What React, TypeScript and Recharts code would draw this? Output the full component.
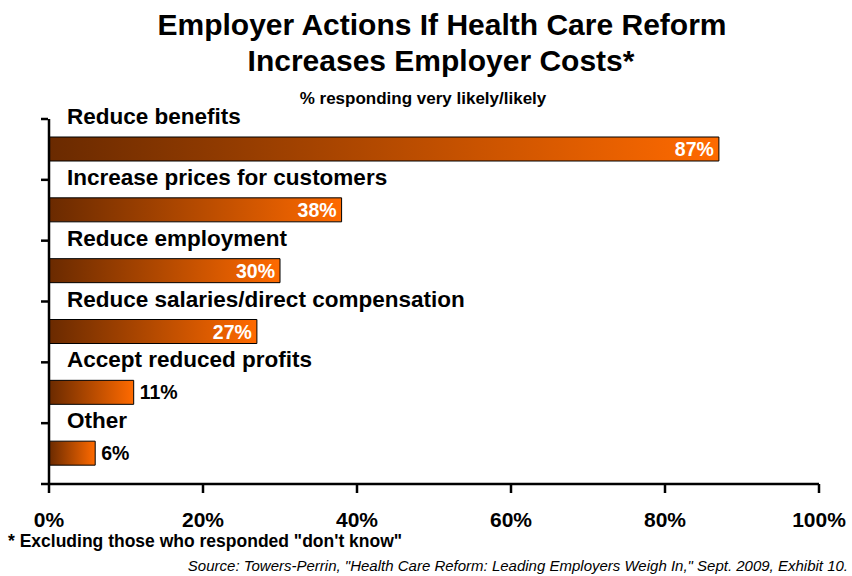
import React from "react";
import { BarChart, Bar, XAxis, YAxis, LabelList } from "recharts";

const categories = [
  "Reduce benefits",
  "Increase prices for customers",
  "Reduce employment",
  "Reduce salaries/direct compensation",
  "Accept reduced profits",
  "Other",
];
const values = [87, 38, 30, 27, 11, 6];
const xTicks = [0, 20, 40, 60, 80, 100];

const data = categories.map((name, i) => ({ name, value: values[i] }));

const W = 852;
const H = 576;
const X_AXIS_H = 60;
const MARGIN = { top: 119, right: 33, bottom: 92 - X_AXIS_H, left: 48 };
const BAND = (H - MARGIN.top - MARGIN.bottom - X_AXIS_H) / categories.length;
const FONT = '"Liberation Sans", Arial, Helvetica, sans-serif';

// tick marks sit at band edges, not centres
function BandTick(props: any) {
  const { y, index } = props;
  const ax = MARGIN.left;
  return (
    <g>
      <line x1={ax - 7} x2={ax} y1={y - BAND / 2} y2={y - BAND / 2} stroke="#000" strokeWidth={2.5} />
      {index === categories.length - 1 && (
        <line x1={ax - 7} x2={ax} y1={y + BAND / 2} y2={y + BAND / 2} stroke="#000" strokeWidth={2.5} />
      )}
    </g>
  );
}

function NameLabel(props: any) {
  const { x, y, value } = props;
  return (
    <text x={x + 18} y={y - 13} fontFamily={FONT} fontWeight="bold" fontSize={22.5} fill="#000">
      {value}
    </text>
  );
}

function ValueLabel(props: any) {
  const { x, y, width, height, value } = props;
  const inside = value >= 20;
  return (
    <text
      x={inside ? x + width - 5 : x + width + 6}
      y={y + height / 2 + 7}
      textAnchor={inside ? "end" : "start"}
      fontFamily={FONT}
      fontWeight="bold"
      fontSize={19.5}
      fill={inside ? "#fff" : "#000"}
    >
      {value}%
    </text>
  );
}

export default function App() {
  return (
    <div style={{ position: "absolute", left: 0, top: 0, width: W, height: H, background: "#fff" }}>
      <BarChart
        width={W}
        height={H}
        data={data}
        layout="vertical"
        margin={MARGIN}
        barCategoryGap={0}
      >
        <defs>
          <linearGradient id="barFill" x1="0" y1="0" x2="1" y2="0">
            <stop offset="0%" stopColor="#6a2a00" />
            <stop offset="100%" stopColor="#ff6a00" />
          </linearGradient>
        </defs>
        <XAxis
          type="number"
          domain={[0, 100]}
          ticks={xTicks}
          tickFormatter={(v) => `${v}%`}
          axisLine={{ stroke: "#000", strokeWidth: 2.5 }}
          tickLine={{ stroke: "#000", strokeWidth: 2.5 }}
          tickSize={9}
          tickMargin={19}
          height={X_AXIS_H}
          tick={{ fill: "#000", fontSize: 21, fontWeight: "bold", fontFamily: FONT }}
          interval={0}
        />
        <YAxis
          type="category"
          dataKey="name"
          axisLine={{ stroke: "#000", strokeWidth: 2.5 }}
          tickLine={false}
          tick={<BandTick />}
          interval={0}
          width={1}
        />
        <Bar
          dataKey="value"
          fill="url(#barFill)"
          stroke="#000"
          strokeWidth={1}
          barSize={24}
          isAnimationActive={false}
        >
          <LabelList dataKey="name" content={<NameLabel />} />
          <LabelList dataKey="value" content={<ValueLabel />} />
        </Bar>
      </BarChart>
      <svg
        width={W}
        height={H}
        style={{ position: "absolute", left: 0, top: 0, pointerEvents: "none" }}
        fontFamily={FONT}
      >
        <text x={442} y={35} textAnchor="middle" fontWeight="bold" fontSize={30}>
          Employer Actions If Health Care Reform
        </text>
        <text x={441} y={71} textAnchor="middle" fontWeight="bold" fontSize={30}>
          Increases Employer Costs*
        </text>
        <text x={423} y={104} textAnchor="middle" fontWeight="bold" fontSize={17}>
          % responding very likely/likely
        </text>
        <text x={8} y={547} fontWeight="bold" fontSize={17.5}>
          * Excluding those who responded "don't know"
        </text>
        <text x={848} y={571} textAnchor="end" fontStyle="italic" fontSize={15}>
          Source: Towers-Perrin, "Health Care Reform: Leading Employers Weigh In," Sept. 2009, Exhibit 10.
        </text>
      </svg>
    </div>
  );
}
